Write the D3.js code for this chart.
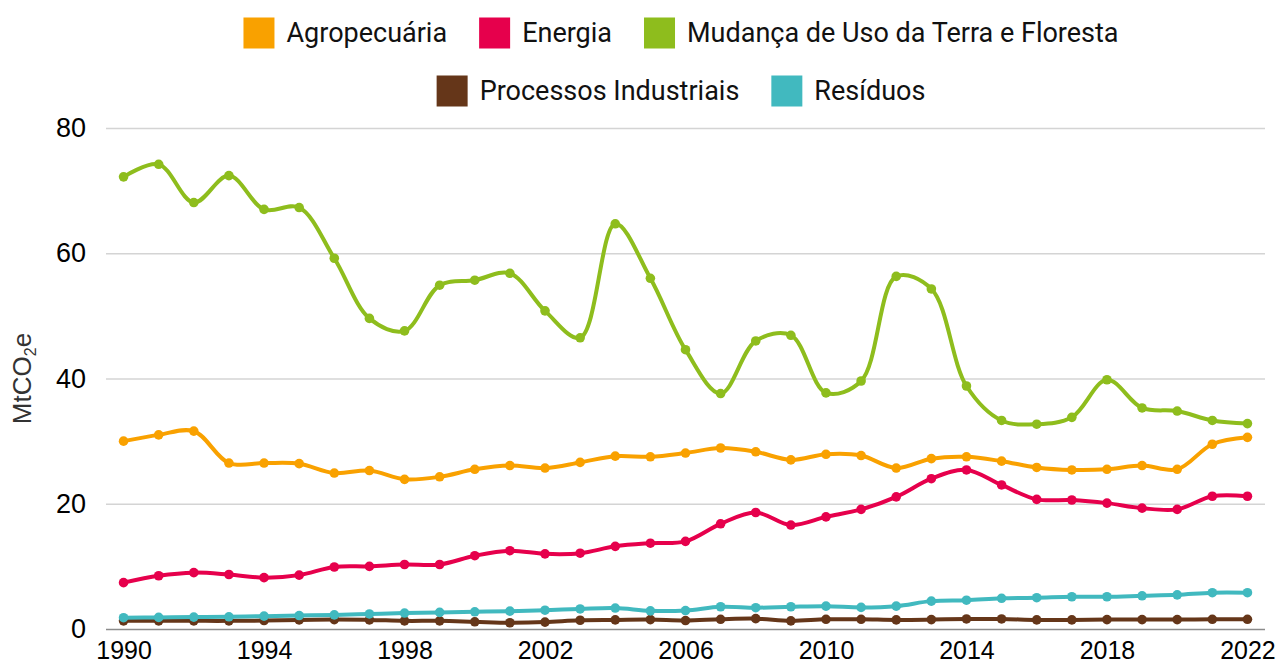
<!DOCTYPE html>
<html>
<head>
<meta charset="utf-8">
<script src="https://cdn.jsdelivr.net/npm/d3@7"></script>
<style>
  body { margin: 0; background: #fff; }
  svg { display: block; }
</style>
</head>
<body>
<script>
'use strict';

// data (MtCO2e)
const years = d3.range(1990, 2023)

const agropecuaria = [30.0, 31.0, 31.6, 26.5, 26.5, 26.4, 24.9, 25.3, 23.9, 24.3, 25.5,
  26.1, 25.7, 26.6, 27.6, 27.5, 28.1, 28.9, 28.3, 27.0, 27.9, 27.7, 25.7, 27.2, 27.5,
  26.8, 25.8, 25.4, 25.5, 26.1, 25.5, 29.5, 30.6]

const energia = [7.4, 8.5, 9.0, 8.7, 8.2, 8.6, 9.9, 10.0, 10.3, 10.3, 11.7,
  12.5, 12.0, 12.1, 13.2, 13.7, 14.0, 16.8, 18.6, 16.6, 17.9, 19.1, 21.1, 24.0, 25.4,
  23.0, 20.7, 20.6, 20.1, 19.3, 19.1, 21.2, 21.2]

const mudancaUso = [72.2, 74.2, 68.1, 72.4, 67.0, 67.3, 59.2, 49.6, 47.6, 54.9, 55.7,
  56.8, 50.8, 46.5, 64.7, 56.0, 44.6, 37.6, 46.0, 46.9, 37.7, 39.6, 56.3, 54.3, 38.8,
  33.3, 32.7, 33.8, 39.8, 35.3, 34.8, 33.3, 32.8]

const processos = [1.3, 1.3, 1.3, 1.3, 1.35, 1.45, 1.5, 1.45, 1.3, 1.3, 1.15,
  1.0, 1.1, 1.4, 1.45, 1.5, 1.35, 1.55, 1.65, 1.3, 1.55, 1.55, 1.45, 1.5, 1.6,
  1.6, 1.45, 1.45, 1.5, 1.5, 1.5, 1.55, 1.55]

const residuos = [1.8, 1.85, 1.9, 1.95, 2.05, 2.15, 2.25, 2.4, 2.55, 2.65, 2.75,
  2.85, 3.0, 3.2, 3.35, 2.9, 2.95, 3.55, 3.4, 3.55, 3.65, 3.45, 3.65, 4.45, 4.6,
  4.9, 5.0, 5.15, 5.15, 5.3, 5.45, 5.8, 5.8]

const seriesNames = ['Agropecuária', 'Energia', 'Mudança de Uso da Terra e Floresta',
  'Processos Industriais', 'Resíduos']
const seriesValues = [agropecuaria, energia, mudancaUso, processos, residuos]
const seriesColors = ['#F9A100', '#E6004C', '#8EBD1D', '#653619', '#41B9BF']

const yTicks = [0, 20, 40, 60, 80]
const xTicks = [1990, 1994, 1998, 2002, 2006, 2010, 2014, 2018, 2022]

const m = {
  width: 1279,
  height: 664,
  left: 106,
  right: 1265,
  top: 128,
  bottom: 629
}

const svg = d3.select('body')
  .append('svg')
  .attr('width', m.width)
  .attr('height', m.height)

// scales
const x = d3.scalePoint()
  .domain(years)
  .range([m.left, m.right])
  .padding(0.5)

const y = d3.scaleLinear()
  .domain([0, 80])
  .range([m.bottom, m.top])

// gridlines + y tick labels
const yAxis = d3.axisLeft(y)
  .tickValues(yTicks)
  .tickSize(-(m.right - m.left))
  .tickPadding(20)

const gy = svg.append('g')
  .attr('transform', 'translate(' + m.left + ',0)')
  .call(yAxis)
gy.select('.domain').remove()
gy.selectAll('.tick line')
  .attr('stroke', (d) => d === 0 ? '#8c8c8c' : '#d4d4d4')
  .attr('stroke-width', 1.3)
gy.selectAll('.tick text')
  .attr('fill', '#000')
  .style('font-family', '"Liberation Sans", Arial, sans-serif')
  .style('font-size', '27px')

// x tick labels (no tick marks)
const xAxis = d3.axisBottom(x)
  .tickValues(xTicks)
  .tickSize(0)
  .tickPadding(12)

const gx = svg.append('g')
  .attr('transform', 'translate(0,' + m.bottom + ')')
  .call(xAxis)
gx.select('.domain').remove()
gx.selectAll('.tick text')
  .attr('fill', '#000')
  .style('font-family', '"Liberation Sans", Arial, sans-serif')
  .style('font-size', '25px')

// y axis title
const yTitle = svg.append('text')
  .attr('transform', 'translate(31,' + ((m.top + m.bottom) / 2) + ')rotate(-90)')
  .attr('text-anchor', 'middle')
  .style('font-family', '"Liberation Sans", Arial, sans-serif')
  .style('font-size', '26px')
  .attr('fill', '#333')
yTitle.append('tspan').text('MtCO')
yTitle.append('tspan').attr('dy', 5).style('font-size', '16px').text('2')
yTitle.append('tspan').attr('dy', -5).text('e')

// lines and points
const line = d3.line()
  .x((d) => x(d.year))
  .y((d) => y(d.value))
  .curve(d3.curveCatmullRom.alpha(0.5))

seriesValues.forEach((vals, i) => {
  const pts = years.map((yr, j) => ({ year: yr, value: vals[j] }))
  const g = svg.append('g')
  g.append('path')
    .datum(pts)
    .attr('d', line)
    .attr('fill', 'none')
    .attr('stroke', seriesColors[i])
    .attr('stroke-width', 4)
    .attr('stroke-linejoin', 'round')
  g.selectAll('circle')
    .data(pts)
    .enter()
    .append('circle')
    .attr('cx', (d) => x(d.year))
    .attr('cy', (d) => y(d.value))
    .attr('r', 4.8)
    .attr('fill', seriesColors[i])
})

// legend, two centred rows
const legendRows = [[0, 1, 2], [3, 4]]
const legendY = [33, 91]
const sq = 31
const legendCenter = 681

legendRows.forEach((row, r) => {
  const g = svg.append('g')
  let cur = 0
  row.forEach((idx) => {
    const item = g.append('g').attr('transform', 'translate(' + cur + ',0)')
    item.append('rect')
      .attr('x', 0)
      .attr('y', legendY[r] - sq / 2)
      .attr('width', sq)
      .attr('height', sq)
      .attr('fill', seriesColors[idx])
    const t = item.append('text')
      .attr('x', sq + 12)
      .attr('y', legendY[r])
      .attr('dy', '0.35em')
      .style('font-family', 'Roboto, sans-serif')
      .style('font-size', '27px')
      .attr('fill', '#111')
      .text(seriesNames[idx])
    cur += sq + 12 + t.node().getComputedTextLength() + 32
  })
  const total = cur - 32
  g.attr('transform', 'translate(' + (legendCenter - total / 2) + ',0)')
})
</script>
</body>
</html>
